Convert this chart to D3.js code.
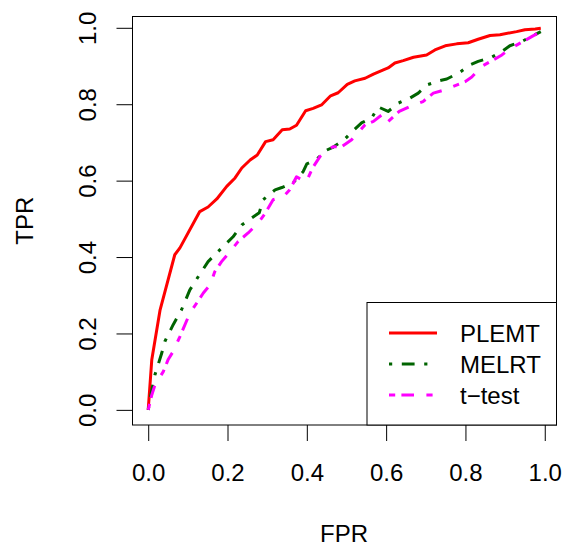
<!DOCTYPE html>
<html>
<head>
<meta charset="utf-8">
<script src="https://cdn.jsdelivr.net/npm/d3@7"></script>
<style>
  html, body { margin: 0; padding: 0; background: #fff; }
  svg text { font-family: "Liberation Sans", Arial, Helvetica, sans-serif; fill: #000; }
</style>
</head>
<body>
<div id="chart"></div>
<script>
// ROC curves: [FPR, TPR]
const plemt = [
  [0, 0], [0.009, 0.131], [0.030, 0.262], [0.067, 0.406], [0.080, 0.424],
  [0.130, 0.519], [0.151, 0.531], [0.173, 0.552], [0.198, 0.585], [0.219, 0.607],
  [0.236, 0.633], [0.257, 0.654], [0.275, 0.667], [0.296, 0.702], [0.315, 0.707],
  [0.338, 0.733], [0.357, 0.735], [0.374, 0.745], [0.397, 0.783], [0.416, 0.789],
  [0.437, 0.798], [0.460, 0.822], [0.479, 0.830], [0.502, 0.852], [0.521, 0.861],
  [0.547, 0.868], [0.568, 0.879], [0.593, 0.890], [0.605, 0.895], [0.622, 0.908],
  [0.643, 0.914], [0.669, 0.923], [0.702, 0.929], [0.723, 0.942], [0.749, 0.953],
  [0.778, 0.958], [0.807, 0.961], [0.832, 0.970], [0.862, 0.980], [0.887, 0.982],
  [0.929, 0.990], [0.950, 0.995], [0.976, 0.997], [0.990, 0.999]
];
const melrt = [
  [0, 0], [0.009, 0.052], [0.017, 0.092], [0.034, 0.148], [0.042, 0.179],
  [0.063, 0.223], [0.084, 0.262], [0.105, 0.314], [0.124, 0.345], [0.151, 0.388],
  [0.178, 0.416], [0.214, 0.453], [0.236, 0.484], [0.269, 0.508], [0.280, 0.516],
  [0.290, 0.550], [0.320, 0.576], [0.337, 0.582], [0.366, 0.595], [0.391, 0.624],
  [0.400, 0.644], [0.423, 0.654], [0.446, 0.678], [0.467, 0.688], [0.494, 0.707],
  [0.517, 0.731], [0.538, 0.751], [0.564, 0.765], [0.580, 0.793], [0.605, 0.781],
  [0.631, 0.803], [0.660, 0.816], [0.681, 0.829], [0.704, 0.851], [0.736, 0.862],
  [0.753, 0.866], [0.785, 0.883], [0.812, 0.903], [0.832, 0.912], [0.866, 0.923],
  [0.892, 0.938], [0.912, 0.953], [0.942, 0.964], [0.990, 0.990]
];
const ttest = [
  [0, 0], [0.009, 0.039], [0.017, 0.065], [0.038, 0.100], [0.050, 0.131],
  [0.063, 0.153], [0.080, 0.192], [0.105, 0.253], [0.122, 0.279], [0.139, 0.306],
  [0.156, 0.327], [0.168, 0.362], [0.185, 0.388], [0.206, 0.414], [0.227, 0.441],
  [0.252, 0.463], [0.277, 0.489], [0.294, 0.513], [0.315, 0.550], [0.341, 0.558],
  [0.357, 0.576], [0.374, 0.610], [0.398, 0.596], [0.415, 0.634], [0.433, 0.663],
  [0.466, 0.689], [0.488, 0.689], [0.513, 0.707], [0.547, 0.746], [0.568, 0.755],
  [0.589, 0.772], [0.601, 0.751], [0.633, 0.781], [0.660, 0.794], [0.693, 0.807],
  [0.719, 0.829], [0.749, 0.838], [0.799, 0.859], [0.816, 0.871], [0.841, 0.899],
  [0.870, 0.916], [0.892, 0.929], [0.907, 0.942], [0.945, 0.964], [0.967, 0.977],
  [0.990, 0.990]
];
const seriesNames = ['PLEMT', 'MELRT', 't\u2212test'];
const ticks = [0, 0.2, 0.4, 0.6, 0.8, 1.0];

const width = 566, height = 549;
const box = { left: 132.5, right: 556.5, top: 16.5, bottom: 425 };

const svg = d3.select('#chart').append('svg')
  .attr('width', width)
  .attr('height', height);

// R style: data range extended by 4% on each side
const x = d3.scaleLinear().domain([-0.0396, 1.0296]).range([box.left, box.right]);
const y = d3.scaleLinear().domain([-0.0396, 1.0296]).range([box.bottom, box.top]);

const styles = [
  { color: '#ff0000', dash: null },
  { color: '#006400', dash: '3.2,9.6,12.8,9.6' },
  { color: '#ff00ff', dash: '6.2,6.2,12.6,12.4' }
];

const line = d3.line().x(d => x(d[0])).y(d => y(d[1]));

[plemt, melrt, ttest].forEach((data, i) => {
  svg.append('path')
    .datum(data)
    .attr('d', line)
    .attr('fill', 'none')
    .attr('stroke', styles[i].color)
    .attr('stroke-width', 3)
    .attr('stroke-linejoin', 'round')
    .attr('stroke-dasharray', styles[i].dash);
});

// axes
const xAxis = svg.append('g')
  .attr('transform', `translate(0,${box.bottom})`)
  .call(d3.axisBottom(x).tickValues(ticks).tickSize(16).tickFormat(d3.format('.1f')));
xAxis.select('.domain').remove();
xAxis.selectAll('line').attr('stroke', '#000');
xAxis.selectAll('text')
  .attr('y', 56).attr('dy', null)
  .style('font-size', '24px');

const yAxis = svg.append('g')
  .attr('transform', `translate(${box.left},0)`)
  .call(d3.axisLeft(y).tickValues(ticks).tickSize(16).tickFormat(d3.format('.1f')));
yAxis.select('.domain').remove();
yAxis.selectAll('line').attr('stroke', '#000');
yAxis.selectAll('text')
  .attr('x', null).attr('dy', null)
  .attr('text-anchor', 'middle')
  .attr('transform', 'translate(-37,0) rotate(-90)')
  .style('font-size', '24px');

// plot box
svg.append('rect')
  .attr('x', box.left).attr('y', box.top)
  .attr('width', box.right - box.left)
  .attr('height', box.bottom - box.top)
  .attr('fill', 'none')
  .attr('stroke', '#000')
  .attr('stroke-width', 1);

svg.append('text')
  .attr('x', (box.left + box.right) / 2 - 0.5)
  .attr('y', 541.5)
  .attr('text-anchor', 'middle')
  .style('font-size', '24px')
  .text('FPR');

svg.append('text')
  .attr('transform', `translate(33,${(box.top + box.bottom) / 2}) rotate(-90)`)
  .attr('text-anchor', 'middle')
  .style('font-size', '24px')
  .text('TPR');

// legend
const legend = svg.append('g');
legend.append('rect')
  .attr('x', 367).attr('y', 302.5)
  .attr('width', box.right - 367)
  .attr('height', box.bottom - 302.5)
  .attr('fill', '#fff')
  .attr('stroke', '#000')
  .attr('stroke-width', 1);

seriesNames.forEach((name, i) => {
  const ly = 333 + i * 31;
  legend.append('line')
    .attr('x1', 389).attr('x2', 437)
    .attr('y1', ly).attr('y2', ly)
    .attr('stroke', styles[i].color)
    .attr('stroke-width', 3)
    .attr('stroke-dasharray', styles[i].dash);
  legend.append('text')
    .attr('x', 460)
    .attr('y', ly + 9)
    .style('font-size', '24px')
    .text(name);
});
</script>
</body>
</html>
